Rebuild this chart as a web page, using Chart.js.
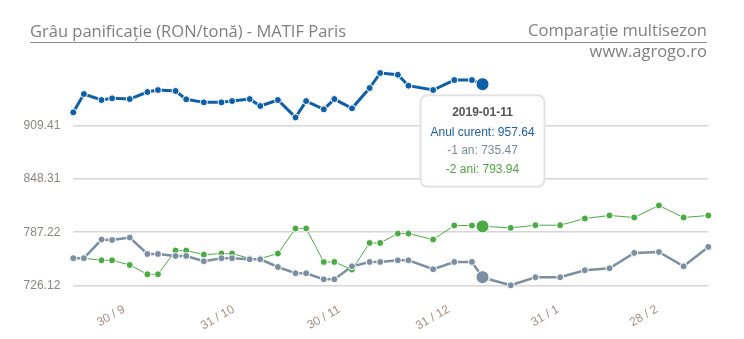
<!DOCTYPE html>
<html>
<head>
<meta charset="utf-8">
<script src="https://cdn.jsdelivr.net/npm/chart.js@4.4.0/dist/chart.umd.min.js"></script>
<style>
  html, body { margin: 0; padding: 0; background: #fff; }
  #wrap { position: relative; width: 744px; height: 339px; }
  #grafic { position: absolute; left: 0; top: 0; }
  .txt { position: absolute; font-family: 'Open Sans', sans-serif; color: #7f7f7f; line-height: 1; white-space: nowrap; font-size: 16.5px; }
  #titlu { left: 30px; top: 23px; }
  #comp { right: 37px; top: 22px; }
  #site { right: 37px; top: 43px; }
  #linie { position: absolute; left: 30px; top: 42px; width: 677px; border-top: 1px solid #8a8a8a; }
</style>
</head>
<body>
<div id="wrap">
  <canvas id="grafic" width="744" height="339"></canvas>
  <div class="txt" id="titlu">Grâu panificație (RON/tonă) - MATIF Paris</div>
  <div class="txt" id="comp">Comparație multisezon</div>
  <div id="linie"></div>
  <div class="txt" id="site">www.agrogo.ro</div>
</div>
<script>
// zilele din sezon (calendarul sezonului curent)
const dates = [
  '2018-09-17', '2018-09-20', '2018-09-25', '2018-09-28', '2018-10-03', '2018-10-08', '2018-10-11',
  '2018-10-16', '2018-10-19', '2018-10-24', '2018-10-29', '2018-11-01', '2018-11-06', '2018-11-09',
  '2018-11-14', '2018-11-19', '2018-11-22', '2018-11-27', '2018-11-30', '2018-12-05', '2018-12-10',
  '2018-12-13', '2018-12-18', '2018-12-21', '2018-12-28', '2019-01-03', '2019-01-08', '2019-01-11',
  '2019-01-12', '2019-01-19', '2019-01-26', '2019-02-02', '2019-02-09', '2019-02-16', '2019-02-23',
  '2019-03-02', '2019-03-09', '2019-03-16'
];

const anulCurent = [
  925.2, 946.3, 939.4, 941.3, 940.5, 948.6, 950.9, 949.8, 940.2, 936.7, 936.7, 938.2, 940.5, 932.5,
  939.4, 919.4, 938.2, 928.7, 940.5, 929.8, 953.2, 970.5, 968.5, 955.9, 950.9, 962.4, 962.4, 957.64
];

const unAn = [
  757.3, 757.3, 778.8, 778.3, 781.1, 762.2, 762.2, 759.9, 759.9, 753.8, 757.3, 757.3, 756.1, 756.1,
  747.2, 740.0, 740.0, 733.0, 733.0, 748.0, 753.0, 753.0, 754.9, 754.9, 744.6, 753.0, 753.0, 735.47,
  734.0, 726.12, 735.4, 735.4, 743.4, 745.7, 763.4, 764.5, 748.0, 770.3
];

const doiAni = [
  757.3, 757.3, 754.9, 754.9, 749.5, 738.8, 738.8, 766.1, 766.1, 761.5, 762.7, 762.7, 757.0, 756.9,
  762.7, 791.5, 791.5, 753.0, 753.0, 744.2, 774.9, 774.9, 785.7, 785.7, 778.8, 795.0, 795.0, 793.94,
  793.9, 792.2, 795.3, 795.3, 803.0, 806.5, 804.2, 818.0, 804.2, 806.5
];

const tickDates = ['2018-09-30', '2018-10-31', '2018-11-30', '2018-12-31', '2019-01-31', '2019-02-28'];
const yTicks = [726.12, 787.22, 848.31, 909.41];
const yMin = 726.12;
const yMax = 970.5;
const dataSelectata = '2019-01-11';

const ziStart = Date.parse('2018-09-30');
function zi(d) {
    return Math.round((Date.parse(d) - ziStart) / 86400000);
}
function eticheta(d) {
    const p = d.split('-');
    return parseInt(p[2], 10) + ' / ' + parseInt(p[1], 10);
}
function puncte(valori) {
    return valori.map((v, i) => ({ x: zi(dates[i]), y: v }));
}

const culoriText = ['#1d5fa6', '#7a8a9b', '#4ea443'];

Chart.defaults.font.family = "'Liberation Sans', Arial, sans-serif";

Chart.Tooltip.positioners.primulPunct = function (elements) {
    if (!elements.length) return false;
    return { x: elements[0].element.x, y: elements[0].element.y };
};

const ctx = document.getElementById('grafic').getContext('2d');
const chart = new Chart(ctx, {
    type: 'line',
    data: {
        datasets: [{
            label: 'Anul curent',
            data: puncte(anulCurent),
            borderColor: '#0f5ea8',
            backgroundColor: '#0f5ea8',
            borderWidth: 3,
            pointRadius: 3.5,
            pointBackgroundColor: '#0f5ea8',
            pointBorderColor: '#fff',
            pointBorderWidth: 1,
            pointHoverRadius: 6.5,
            pointHoverBorderWidth: 1,
            pointHoverBackgroundColor: '#0f5ea8',
            pointHoverBorderColor: '#fff',
            tension: 0,
            clip: false
        }, {
            label: '-1 an',
            data: puncte(unAn),
            borderColor: '#7b8fa3',
            backgroundColor: '#7b8fa3',
            borderWidth: 2.5,
            pointRadius: 3.5,
            pointBackgroundColor: '#7b8fa3',
            pointBorderColor: '#fff',
            pointBorderWidth: 1,
            pointHoverRadius: 6.5,
            pointHoverBorderWidth: 1,
            pointHoverBackgroundColor: '#7b8fa3',
            pointHoverBorderColor: '#fff',
            tension: 0,
            clip: false
        }, {
            label: '-2 ani',
            data: puncte(doiAni),
            borderColor: '#4caa45',
            backgroundColor: '#4caa45',
            borderWidth: 1,
            pointRadius: 3.5,
            pointBackgroundColor: '#4caa45',
            pointBorderColor: '#fff',
            pointBorderWidth: 1,
            pointHoverRadius: 6.5,
            pointHoverBorderWidth: 1,
            pointHoverBackgroundColor: '#4caa45',
            pointHoverBorderColor: '#fff',
            tension: 0,
            clip: false
        }]
    },
    options: {
        responsive: false,
        animation: false,
        events: [],
        layout: {
            padding: { left: 23.3, right: 35.7, top: 73, bottom: 3.7 }
        },
        scales: {
            x: {
                type: 'linear',
                min: zi(dates[0]),
                max: zi(dates[dates.length - 1]),
                grid: { display: false },
                border: { display: false },
                afterBuildTicks: function (scale) {
                    scale.ticks = tickDates.map(d => ({ value: zi(d) }));
                },
                afterFit: function (scale) {
                    scale.height = 50;
                },
                ticks: {
                    autoSkip: false,
                    minRotation: 30,
                    maxRotation: 30,
                    padding: 9,
                    labelOffset: 5,
                    color: '#a38e80',
                    font: { size: 12 },
                    callback: function (value) {
                        const i = tickDates.findIndex(d => zi(d) === value);
                        return i >= 0 ? eticheta(tickDates[i]) : '';
                    }
                }
            },
            y: {
                min: yMin,
                max: yMax,
                afterBuildTicks: function (scale) {
                    scale.ticks = yTicks.map(v => ({ value: v }));
                },
                afterFit: function (scale) {
                    scale.width = 50;
                },
                grid: { color: '#d6d6d6', lineWidth: 1.5, drawTicks: false },
                border: { display: false },
                ticks: {
                    padding: 13,
                    color: '#8a8580',
                    font: { size: 12 },
                    callback: function (value) {
                        return value.toFixed(2);
                    }
                }
            }
        },
        plugins: {
            legend: { display: false },
            tooltip: {
                mode: 'index',
                intersect: false,
                position: 'primulPunct',
                xAlign: 'center',
                yAlign: 'top',
                backgroundColor: 'rgba(255,255,255,0.96)',
                borderColor: '#e3e3e3',
                borderWidth: 2,
                cornerRadius: 8,
                caretSize: 0,
                caretPadding: 11,
                padding: 10,
                titleColor: '#555',
                titleFont: { size: 12, weight: 'bold' },
                titleAlign: 'center',
                titleMarginBottom: 6,
                bodyFont: { size: 12 },
                bodyAlign: 'center',
                bodySpacing: 4,
                displayColors: false,
                callbacks: {
                    title: function (items) {
                        return dates[items[0].dataIndex];
                    },
                    label: function (item) {
                        return item.dataset.label + ': ' + item.parsed.y.toFixed(2);
                    },
                    labelTextColor: function (item) {
                        return culoriText[item.datasetIndex];
                    }
                }
            }
        }
    }
});

const idx = dates.indexOf(dataSelectata);
const activ = [0, 1, 2].map(i => ({ datasetIndex: i, index: idx }));
chart.setActiveElements(activ);
chart.tooltip.setActiveElements(activ, { x: 0, y: 0 });
chart.update();
</script>
</body>
</html>
